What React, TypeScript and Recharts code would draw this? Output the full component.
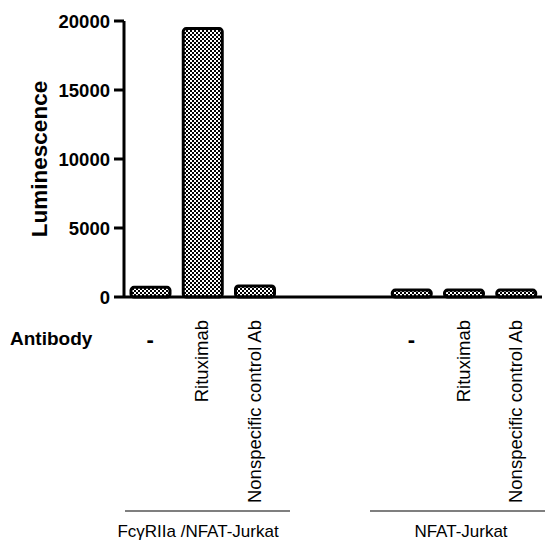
import { BarChart, Bar, XAxis, YAxis } from 'recharts';

const slots = ['a1', 'a2', 'a3', 'gap1', 'gap2', 'b1', 'b2', 'b3'];
const antibodyLabels = ['-', 'Rituximab', 'Nonspecific control Ab', '', '', '-', 'Rituximab', 'Nonspecific control Ab'];
const luminescence = [700, 19450, 800, null, null, 500, 500, 500];
const yTicks = [0, 5000, 10000, 15000, 20000];
const groupLabels = ['FcγRIIa /NFAT-Jurkat', 'NFAT-Jurkat'];

const data = slots.map((id, i) => ({ id, value: luminescence[i] }));

const AntibodyTick = (props: any) => {
  const { x, payload } = props;
  const label = antibodyLabels[payload.index] ?? '';
  if (!label) return null;
  if (label === '-') {
    return (
      <text x={x} y={347} textAnchor="middle" fontFamily="Liberation Sans" fontWeight="bold" fontSize={22} fill="#000">
        -
      </text>
    );
  }
  const bx = x + 6;
  return (
    <text
      x={bx}
      y={320}
      transform={`rotate(-90, ${bx}, 320)`}
      textAnchor="end"
      fontFamily="Liberation Sans"
      fontSize={18.5}
      fill="#000"
    >
      {label}
    </text>
  );
};

export default function App() {
  return (
    <div style={{ position: 'absolute', left: 0, top: 0, width: 545, height: 544, background: '#fff' }}>
      <BarChart width={545} height={544} data={data} margin={{ top: 21, right: 3, left: 0, bottom: 17 }}>
        <defs>
          <pattern id="checker" width="4" height="4" patternUnits="userSpaceOnUse">
            <rect width="4" height="4" fill="#fff" />
            <rect x="0" y="0" width="2" height="2" fill="#000" />
            <rect x="2" y="2" width="2" height="2" fill="#000" />
          </pattern>
        </defs>
        <YAxis
          width={124}
          domain={[0, 20000]}
          ticks={yTicks}
          interval={0}
          axisLine={{ stroke: '#000', strokeWidth: 3 }}
          tickLine={{ stroke: '#000', strokeWidth: 3 }}
          tickSize={10}
          tickMargin={4}
          tick={{ fill: '#000', fontFamily: 'Liberation Sans', fontWeight: 'bold', fontSize: 18.5 }}
        />
        <XAxis
          dataKey="id"
          height={230}
          interval={0}
          axisLine={{ stroke: '#000', strokeWidth: 3 }}
          tickLine={false}
          tick={<AntibodyTick />}
        />
        <Bar dataKey="value" barSize={39} fill="url(#checker)" stroke="#000" strokeWidth={3} radius={3} isAnimationActive={false} />
      </BarChart>
      <svg width={545} height={544} style={{ position: 'absolute', left: 0, top: 0, pointerEvents: 'none' }}>
        <text
          x={47}
          y={159}
          transform="rotate(-90, 47, 159)"
          textAnchor="middle"
          fontFamily="Liberation Sans"
          fontWeight="bold"
          fontSize={22.5}
          fill="#000"
        >
          Luminescence
        </text>
        <text x={10} y={345} fontFamily="Liberation Sans" fontWeight="bold" fontSize={19} fill="#000">
          Antibody
        </text>
        <line x1={125} y1={511} x2={290} y2={511} stroke="#000" strokeWidth={1.2} />
        <line x1={370} y1={511} x2={545} y2={511} stroke="#000" strokeWidth={1.2} />
        <text x={198} y={537} textAnchor="middle" fontFamily="Liberation Sans" fontSize={17} fill="#000">
          {groupLabels[0]}
        </text>
        <text x={461} y={537} textAnchor="middle" fontFamily="Liberation Sans" fontSize={17} fill="#000">
          {groupLabels[1]}
        </text>
      </svg>
    </div>
  );
}
